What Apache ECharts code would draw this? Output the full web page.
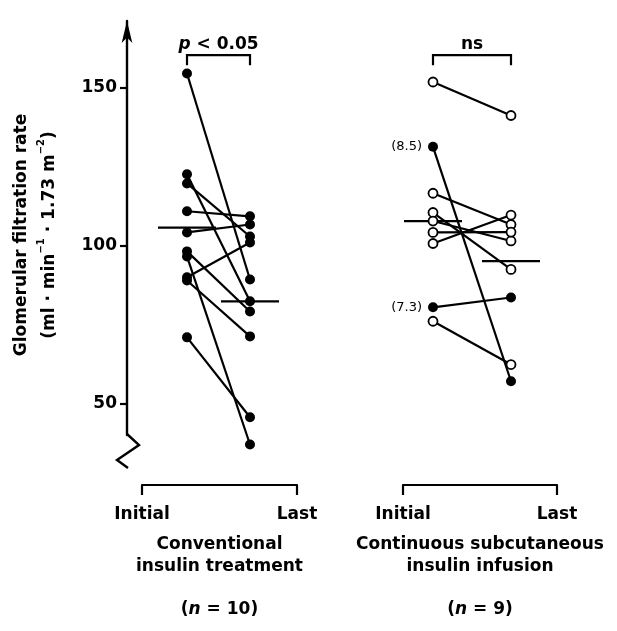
<!DOCTYPE html>
<html><head><meta charset="utf-8">
<script src="https://cdn.jsdelivr.net/npm/echarts@6/dist/echarts.min.js"></script>
<style>html,body{margin:0;padding:0;background:#fff}#c{width:617px;height:631px}</style>
</head><body><div id="c"></div>
<script>
// ---------- data ----------
const timePoints = ['Initial', 'Last'];
const yTicks = [50, 100, 150];
const convInitial = [154.4, 122.5, 119.6, 110.8, 104.1, 98.1, 96.5, 89.9, 88.9, 70.9];
const convLast    = [89.2, 82.3, 102.8, 109.2, 106.6, 79.1, 37.0, 100.9, 71.2, 45.6];
const convFilled  = [true, true, true, true, true, true, true, true, true, true];
const convNotes   = ['', '', '', '', '', '', '', '', '', ''];
const convMeans   = [105.6, 82.3];
const csiiInitial = [151.7, 131.2, 116.5, 110.4, 107.7, 104.1, 100.6, 80.4, 76.0];
const csiiLast    = [141.1, 57.0, 106.6, 92.4, 101.4, 104.2, 109.6, 83.5, 62.3];
const csiiFilled  = [false, true, false, false, false, false, false, true, false];
const csiiNotes   = ['', '(8.5)', '', '', '', '', '', '(7.3)', ''];
const csiiMeans   = [107.7, 95.0];
const groupNames  = [['Conventional', 'insulin treatment'], ['Continuous subcutaneous', 'insulin infusion']];
const groupN      = [10, 9];
const significance = ['{i|p} < 0.05', 'ns'];

// ---------- layout ----------
const FONT = 'DejaVu Sans';
const Y_AXIS_MIN = 40, Y_DATA_MIN = 30, Y_MAX = 171;
const PX_PER_UNIT = 414 / (Y_MAX - Y_AXIS_MIN);
const TOP_BRACKET = 160.2;
const GRID_TOP = 21;
const AXIS_X = 127;
const dataGrids = [{left: 155.5, width: 126}, {left: 394, width: 156}];
const bracketGrids = [{left: 142, width: 155}, {left: 403, width: 154}];
const LW = 2.2;

const chart = echarts.init(document.getElementById('c'), null, {renderer: 'canvas'});

const grids = [], xAxes = [], yAxes = [], series = [];
dataGrids.forEach((g, i) => {
  grids.push({left: g.left, width: g.width, top: GRID_TOP, height: (Y_MAX - Y_DATA_MIN) * PX_PER_UNIT});
  xAxes.push({type: 'category', gridIndex: i, data: timePoints, boundaryGap: true, show: false});
  yAxes.push({type: 'value', gridIndex: i, min: Y_DATA_MIN, max: Y_MAX, show: false});
});
bracketGrids.forEach((g, k) => {
  const gi = k + 2;
  grids.push({left: g.left, width: g.width, top: 475, height: 10});
  xAxes.push({type: 'category', gridIndex: gi, data: timePoints, boundaryGap: false, position: 'bottom',
    axisLine: {show: true, lineStyle: {color: '#000', width: LW}},
    axisTick: {show: true, length: 10, inside: false, lineStyle: {color: '#000', width: LW}},
    axisLabel: {show: true, margin: 21, color: '#000', fontFamily: FONT, fontWeight: 'bold', fontSize: 17, interval: 0},
    name: '{a|' + groupNames[k][0] + '}\n{a|' + groupNames[k][1] + '}\n{a| }\n{a|(}{i|n}{a| = ' + groupN[k] + ')}',
    nameLocation: 'middle', nameGap: 49,
    nameTextStyle: {color: '#000', fontFamily: FONT, fontWeight: 'bold', fontSize: 17,
      rich: {
        a: {color: '#000', fontFamily: FONT, fontWeight: 'bold', fontSize: 17, lineHeight: 21.5},
        i: {color: '#000', fontFamily: FONT, fontWeight: 'bold', fontStyle: 'italic', fontSize: 17, lineHeight: 21.5}
      }}
  });
  yAxes.push({type: 'value', gridIndex: gi, show: false});
});
// display grid for the y axis (ends at the axis break)
grids.push({left: AXIS_X, width: 10, top: GRID_TOP, height: (Y_MAX - Y_AXIS_MIN) * PX_PER_UNIT});
xAxes.push({type: 'category', gridIndex: 4, data: timePoints, show: false});
yAxes.push({type: 'value', gridIndex: 4, min: Y_AXIS_MIN, max: Y_MAX, show: true,
  axisLine: {show: true, lineStyle: {color: '#000', width: 2.4}, symbol: ['none', 'arrow'], symbolSize: [8, 22]},
  axisTick: {show: true, length: 7, inside: false, customValues: yTicks, lineStyle: {color: '#000', width: 2.2}},
  axisLabel: {show: true, customValues: yTicks, margin: 10, color: '#000', fontFamily: FONT, fontWeight: 'bold', fontSize: 17},
  splitLine: {show: false},
  name: '{a|Glomerular filtration rate}\n{a|(ml · min}{s|−1}{a| · 1.73 m}{s|−2}{a|)}',
  nameLocation: 'middle', nameRotate: 90, nameGap: 63,
  nameTextStyle: {color: '#000', fontFamily: FONT, fontWeight: 'bold', fontSize: 17, padding: [0, 14, 0, 0],
    rich: {
      a: {color: '#000', fontFamily: FONT, fontWeight: 'bold', fontSize: 17, lineHeight: 28},
      s: {color: '#000', fontFamily: FONT, fontWeight: 'bold', fontSize: 10, lineHeight: 16, verticalAlign: 'top'}
    }}
});

function addGroup(gi, init, last, filled, notes, means, sig) {
  init.forEach((v, i) => {
    series.push({type: 'line', xAxisIndex: gi, yAxisIndex: gi, data: [[0, v], [1, last[i]]],
      showSymbol: false, symbol: 'none', lineStyle: {color: '#000', width: LW}, z: 2, silent: true});
  });
  const filledPts = [], openPts = [];
  init.forEach((v, i) => {
    const a = {value: [0, v]}, b = {value: [1, last[i]]};
    if (notes[i]) a.label = {show: true, formatter: notes[i]};
    (filled[i] ? filledPts : openPts).push(a, b);
  });
  series.push({type: 'scatter', xAxisIndex: gi, yAxisIndex: gi, z: 6, data: filledPts,
    symbol: 'circle', symbolSize: 10, itemStyle: {color: '#000', opacity: 1},
    label: {show: false, position: 'left', distance: 6, color: '#000', fontFamily: FONT, fontSize: 13}});
  series.push({type: 'scatter', xAxisIndex: gi, yAxisIndex: gi, z: 6, data: openPts,
    symbol: 'circle', symbolSize: 9, itemStyle: {color: '#fff', borderColor: '#000', borderWidth: 1.8, opacity: 1}});
  series.push({type: 'custom', xAxisIndex: gi, yAxisIndex: gi, z: 4, data: means.map((m, k) => [k, m]),
    renderItem: (p, api) => {
      const c = api.coord([api.value(0), api.value(1)]);
      return {type: 'line', shape: {x1: c[0] - 29, y1: c[1], x2: c[0] + 29, y2: c[1]},
        style: {stroke: '#000', lineWidth: LW}};
    }});
  series.push({type: 'custom', xAxisIndex: gi, yAxisIndex: gi, z: 4, data: [[0, TOP_BRACKET]],
    renderItem: (p, api) => {
      const a = api.coord([0, api.value(1)]), b = api.coord([1, api.value(1)]);
      return {type: 'group', children: [
        {type: 'polyline', shape: {points: [[a[0], a[1] + 10], [a[0], a[1]], [b[0], b[1]], [b[0], b[1] + 10]]},
          style: {stroke: '#000', fill: null, lineWidth: LW}},
        {type: 'text', style: {text: sig, x: (a[0] + b[0]) / 2, y: a[1] - 11, align: 'center', verticalAlign: 'middle',
          fill: '#000', fontFamily: FONT, fontWeight: 'bold', fontSize: 17,
          rich: {i: {fill: '#000', fontFamily: FONT, fontWeight: 'bold', fontStyle: 'italic', fontSize: 17}}}}
      ]};
    }});
}
addGroup(0, convInitial, convLast, convFilled, convNotes, convMeans, significance[0]);
addGroup(1, csiiInitial, csiiLast, csiiFilled, csiiNotes, csiiMeans, significance[1]);

chart.setOption({animation: false, backgroundColor: '#fff', grid: grids, xAxis: xAxes, yAxis: yAxes, series: series});

// axis break zigzag at the bottom of the y axis
const yb = chart.convertToPixel({yAxisIndex: 4}, Y_AXIS_MIN);
chart.setOption({graphic: [{type: 'polyline', z: 10,
  shape: {points: [[AXIS_X, yb - 1], [AXIS_X + 12, yb + 10], [AXIS_X - 10, yb + 25], [AXIS_X + 1, yb + 33]]},
  style: {stroke: '#000', fill: null, lineWidth: 2.4}}]});
</script></body></html>
